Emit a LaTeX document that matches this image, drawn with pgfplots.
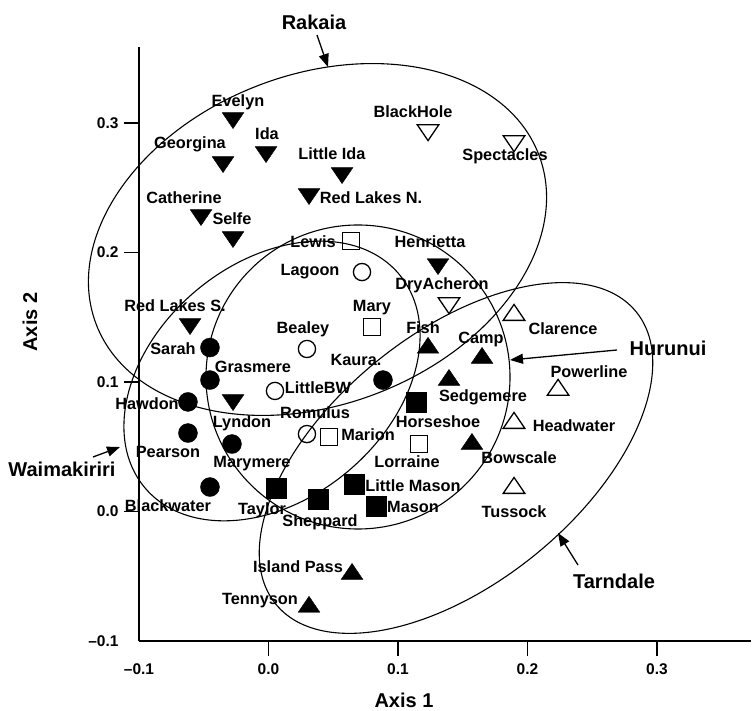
\documentclass[border=0pt]{standalone}
\usepackage{fontspec}
\setmainfont{Liberation Sans}
\usepackage{pgfplots}
\pgfplotsset{compat=1.18}
\usetikzlibrary{arrows.meta}
\begin{document}
\begin{tikzpicture}
\begin{axis}[
  x=1295pt, y=1295pt,
  xmin=-0.1, xmax=0.3725, ymin=-0.1, ymax=0.359,
  axis lines=left,
  axis line style={-, line width=1.8pt},
  clip=false,
  tick align=outside,
  major tick length=15pt,
  tick style={line width=1.8pt, black},
  xtick={0,0.1,0.2,0.3}, xticklabels={0.0,0.1,0.2,0.3},
  ytick={0,0.1,0.2,0.3}, yticklabels={0.0,0.1,0.2,0.3},
  extra x ticks={-0.1}, extra x tick labels={–0.1},
  extra y ticks={-0.1}, extra y tick labels={–0.1},
  extra tick style={major tick style={draw=none}},
  ticklabel style={font=\fontsize{15.5}{18}\selectfont\bfseries},
  xticklabel style={yshift=-4pt},
  yticklabel style={xshift=-2pt},
]
% Rakaia: filled down-triangles
\addplot[only marks, mark=triangle*, mark size=12.5pt,
  mark options={rotate=180, yscale=0.85, fill=black, draw=black}] coordinates {
  (-0.0274,0.3039) (-0.0019,0.2776) (-0.0351,0.2699) (-0.0521,0.2290)
  (-0.0274,0.2120) (0.0568,0.2614) (0.0313,0.2452) (0.1309,0.1911)
  (-0.0606,0.1448) (-0.0274,0.0861)};
% Rakaia: open down-triangles
\addplot[only marks, mark=triangle, mark size=12.5pt,
  mark options={rotate=180, yscale=0.85, draw=black, line width=1.3pt}] coordinates {
  (0.1232,0.2946) (0.1896,0.2861) (0.1394,0.1610)};
% Waimakiriri: filled circles
\addplot[only marks, mark=*, mark size=9.5pt,
  mark options={fill=black, draw=black}] coordinates {
  (-0.0452,0.1266) (-0.0452,0.1015) (-0.0622,0.0846) (-0.0622,0.0606)
  (-0.0282,0.0521) (-0.0452,0.0189) (0.0884,0.1015)};
% Waimakiriri: open circles
\addplot[only marks, mark=o, mark size=8.6pt,
  mark options={draw=black, line width=1.3pt}] coordinates {
  (0.0722,0.1849) (0.0297,0.1255) (0.0050,0.0931) (0.0297,0.0598)};
% Hurunui: open squares
\addplot[only marks, mark=square, mark size=8.6pt,
  mark options={draw=black, line width=1.3pt}] coordinates {
  (0.0637,0.2089) (0.0799,0.1425) (0.0467,0.0575) (0.1162,0.0521)};
% Hurunui: filled squares
\addplot[only marks, mark=square*, mark size=9.8pt,
  mark options={fill=black, draw=black}] coordinates {
  (0.1139,0.0846) (0.0058,0.0181) (0.0382,0.0097) (0.0660,0.0212) (0.0830,0.0042)};
% Tarndale: filled up-triangles
\addplot[only marks, mark=triangle*, mark size=12.5pt,
  mark options={yscale=0.85, fill=black, draw=black}] coordinates {
  (0.1232,0.1263) (0.1649,0.1185) (0.1394,0.1015) (0.1571,0.0521)
  (0.0645,-0.0483) (0.0313,-0.0737)};
% Tarndale: open up-triangles
\addplot[only marks, mark=triangle, mark size=12.5pt,
  mark options={yscale=0.85, draw=black, line width=1.3pt}] coordinates {
  (0.1896,0.1517) (0.2236,0.0938) (0.1896,0.0683) (0.1896,0.0181)};
\coordinate (P0) at (axis cs:-0.1,-0.1);
\end{axis}
\coordinate (TL) at ([shift={(-139pt,641pt)}]P0);
\begin{scope}[shift={(TL)}, x=1pt, y=-1pt,
  lab/.style={inner sep=0pt, text height=11.5pt, text depth=0pt,
     font=\fontsize{16.3}{19}\selectfont\bfseries},
  big/.style={inner sep=0pt, text height=14.3pt, text depth=0pt,
     font=\fontsize{20}{24}\selectfont\bfseries},
  arr/.style={line width=1.3pt, -{Triangle[length=13pt, width=10pt]}}]
\pgfresetboundingbox
\path[use as bounding box] (0,0) rectangle (752,711);
% ellipses
\draw[line width=1.1pt, rotate around={21:(317.5,239.5)}] (317.5,239.5) ellipse [x radius=237, y radius=165];
\draw[line width=1.1pt, rotate around={40:(272,381)}] (272,381) ellipse [x radius=166, y radius=118];
\draw[line width=1.1pt] (358,377) circle [radius=152];
\draw[line width=1.1pt, rotate around={39:(456,458)}] (456,458) ellipse [x radius=232, y radius=125];
% arrows
\draw[arr] (317,35) -- (328,67);
\draw[arr] (617,350) -- (510,360);
\draw[arr] (93,457) -- (120,447);
\draw[arr] (578,565) -- (558,533);
% big labels
\node[big] at (314,22.5) {Rakaia};
\node[big] at (668,348) {Hurunui};
\node[big] at (614,581) {Tarndale};
\node[big] at (62,469) {Waimakiriri};
\node[big] at (404,700) {Axis 1};
\node[big, rotate=90] at (30,322) {Axis 2};
% site labels
\node[lab] at (238,101) {Evelyn};
\node[lab] at (267,134) {Ida};
\node[lab] at (190,143) {Georgina};
\node[lab] at (184,198) {Catherine};
\node[lab] at (232,219) {Selfe};
\node[lab] at (332,154) {Little Ida};
\node[lab] at (371,198) {Red Lakes N.};
\node[lab] at (413,112) {BlackHole};
\node[lab] at (505,155) {Spectacles};
\node[lab] at (313,242) {Lewis};
\node[lab] at (430,242) {Henrietta};
\node[lab] at (310,270) {Lagoon};
\node[lab] at (442,284) {DryAcheron};
\node[lab] at (175,306) {Red Lakes S.};
\node[lab] at (173,349) {Sarah};
\node[lab] at (253,367) {Grasmere};
\node[lab] at (372,306) {Mary};
\node[lab] at (303,328) {Bealey};
\node[lab] at (423,328) {Fish};
\node[lab] at (481,338) {Camp};
\node[lab] at (563,329) {Clarence};
\node[lab] at (356,360) {Kaura.};
\node[lab] at (318,388) {LittleBW};
\node[lab] at (147,404) {Hawdon};
\node[lab] at (242,422) {Lyndon};
\node[lab] at (483,396) {Sedgemere};
\node[lab] at (589,372) {Powerline};
\node[lab] at (315,413) {Romulus};
\node[lab] at (438,422) {Horseshoe};
\node[lab] at (368,435) {Marion};
\node[lab] at (574,426) {Headwater};
\node[lab] at (168,452) {Pearson};
\node[lab] at (252,462) {Marymere};
\node[lab] at (407,462) {Lorraine};
\node[lab] at (519,458) {Bowscale};
\node[lab] at (168,506) {Blackwater};
\node[lab] at (262,509) {Taylor};
\node[lab] at (413,486) {Little Mason};
\node[lab] at (413,507) {Mason};
\node[lab] at (514,512) {Tussock};
\node[lab] at (320,521) {Sheppard};
\node[lab] at (298,567) {Island Pass};
\node[lab] at (260,599) {Tennyson};
\end{scope}
\end{tikzpicture}
\end{document}
